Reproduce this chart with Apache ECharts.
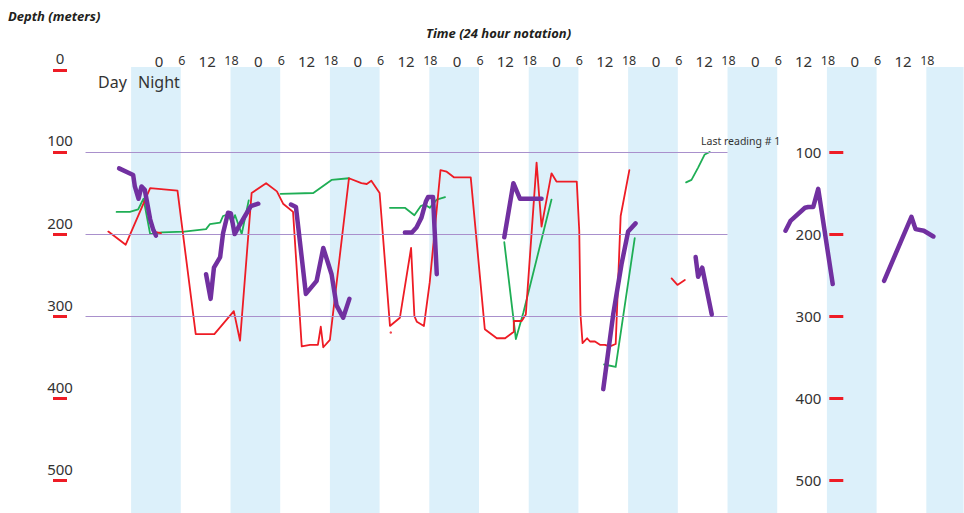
<!DOCTYPE html>
<html><head><meta charset="utf-8">
<script src="https://cdn.jsdelivr.net/npm/echarts@6/dist/echarts.min.js"></script>
<style>html,body{margin:0;padding:0;background:#fff}#c{width:964px;height:513px}</style>
</head><body><div id="c"></div>
<script>
// ---- axes / ticks ----
const timeTicks = [0,6,12,18,24,30,36,42,48,54,60,66,72,78,84,90,96,102,108,114,120,126,132,138,144,150,156,162,168,174,180,186];
const depthTicksLeft = [0,100,200,300,400,500];
const depthTicksRight = [100,200,300,400,500];
const nightBands = [[-6,6],[18,30],[42,54],[66,78],[90,102],[114,126],[138,150],[162,174],[186,198]];
const referenceDepths = [100,200,300];
const referenceSpan = [-17,138];

// ---- tracks: [hour, depth m] ----
const redTrack = [[-11.5,197],[-7.3,213],[-1.4,144],[5.2,147],[9.6,322],[14.1,322],[18.8,294],[20.3,330],[23.1,150],[26.6,138],[29.2,148],[30.7,163],[33.1,173],[35.2,337],[37.2,335],[39.1,335],[39.8,313],[40.4,338],[42.0,329],[46.6,132],[49.6,138],[50.9,139],[52.0,135],[54.0,150],[56.5,312],[58.9,302],[61.6,217],[62.4,300],[63.0,307],[64.7,312],[66.1,259],[68.7,122],[70.2,124],[72.0,131],[76.0,131],[79.4,316],[82.3,327],[84.3,327],[86.4,319],[86.4,306],[88.3,306],[89.3,298],[91.9,113],[93.1,191],[95.5,126],[96.7,136],[101.6,136],[102.2,196],[102.5,298],[103.0,333],[104.1,327],[104.8,331],[106.0,331],[107.2,335],[108.4,335],[109.6,337],[111.0,334],[112.2,178],[114.3,122]];
const redFragment = [[-0.6,197],[1.2,199]];
const redHook = [[124.5,254],[125.9,262],[127.7,256]];
const redSpeck = [[56.7,320]];

const green1 = [[-9.5,173],[-6.3,173],[-4.3,170],[-3.0,157],[-1.4,200],[1.4,198],[6.8,197],[12.1,194],[13.0,188],[15.5,186],[16.2,178],[17.4,176],[18.3,186],[19.1,177],[20.7,200],[22.4,159]];
const green2 = [[30.1,151],[38.0,150],[42.4,134],[46.6,132]];
const green3 = [[56.5,168],[60.1,168],[62.4,177],[63.9,166],[64.9,164],[66.1,168],[67.8,158],[69.8,155]];
const green4 = [[84.1,210],[86.9,328],[88.7,296],[95.5,158]];
const green5 = [[108.2,359],[111.0,362],[115.6,205]];
const green6 = [[128.0,137],[129.3,134],[130.9,119],[132.5,103],[133.7,100]];

const purple1 = [[-8.9,120],[-5.5,128],[-5.1,142],[-4.2,157],[-3.5,142],[-2.7,146],[-1.4,182],[-0.7,194],[0,202]];
const purple2 = [[12.1,249],[13.2,279],[14.0,241],[15.5,228],[16.2,199],[17.4,174],[18.1,175],[19.0,200],[20.1,190],[21.5,178],[22.9,166],[24.7,163]];
const purple3 = [[32.6,164],[33.8,167],[36.2,273],[38.8,257],[40.4,217],[42.4,249],[43.6,287],[45.2,302],[46.7,279]];
const purple4 = [[60.1,198],[61.8,198],[62.9,192],[64.1,180],[65.2,160],[65.7,155],[66.9,155],[67.8,249]];
const purple5 = [[84.1,204],[86.3,138],[87.9,157],[93.1,157]];
const purple6 = [[108.0,389],[110.4,298],[112.4,237],[114.0,197],[115.8,187]];
const purple7 = [[130.3,228],[130.9,252],[131.9,241],[134.2,298]];
const purple8 = [[152.0,196],[153.2,184],[156.7,168],[157.5,167],[158.7,167],[159.9,145],[163.4,261]];
const purple9 = [[175.8,257],[182.4,179],[183.4,194],[185.4,196],[187.7,203]];

// ---- styling ----
const RED = '#ee1c25', GREEN = '#1fae55', PURPLE = '#7130a0', REF = '#a990cc', BAND = '#dcf0fa', TXT = '#333';
const xMin = -18, xMax = 195;
const FONT = 'Noto Sans';

function line(data, color, width, z) {
  return { type: 'line', data: data, showSymbol: false, symbol: 'none', silent: true, z: z,
    lineStyle: { color: color, width: width, cap: 'round', join: 'round' }, animation: false };
}

const series = [
  { type: 'line', data: [], silent: true, z: 1,
    markArea: { silent: true, itemStyle: { color: BAND },
      data: nightBands.map(b => [{ xAxis: Math.max(b[0], xMin) }, { xAxis: Math.min(b[1], xMax) }]) },
    markLine: { silent: true, symbol: 'none', label: { show: false },
      lineStyle: { color: REF, width: 1, type: 'solid' },
      data: referenceDepths.map(d => [{ coord: [referenceSpan[0], d] }, { coord: [referenceSpan[1], d] }]) } },
  ...[green1, green2, green3, green4, green5, green6].map(g => line(g, GREEN, 1.8, 3)),
  ...[redTrack, redFragment, redHook].map(r => line(r, RED, 1.8, 4)),
  { type: 'scatter', data: redSpeck, symbolSize: 2.5, silent: true, z: 4, itemStyle: { color: RED } },
  ...[purple1, purple2, purple3, purple4, purple5, purple6, purple7, purple8, purple9].map(p => line(p, PURPLE, 4.5, 5))
];

const hiddenLine = { show: true, onZero: false, lineStyle: { color: 'rgba(0,0,0,0)', width: 0 } };

const chart = echarts.init(document.getElementById('c'), null, { renderer: 'svg' });
chart.setOption({
  animation: false,
  backgroundColor: '#fff',
  textStyle: { fontFamily: FONT },
  grid: { left: 81.4, top: 67, width: 882.2, height: 447.4, containLabel: false },
  xAxis: {
    type: 'value', position: 'top', min: xMin, max: xMax,
    axisLine: { show: false, onZero: false }, axisTick: { show: false }, splitLine: { show: false },
    axisLabel: {
      customValues: timeTicks, margin: 6.5, verticalAlign: 'middle',
      formatter: v => { const h = ((v % 24) + 24) % 24; return h === 0 ? '{z|0}' : (h === 12 ? '{m|12}' : '{s|' + h + '}'); },
      rich: {
        z: { fontSize: 15, lineHeight: 10, color: TXT, fontFamily: FONT, padding: [0, 0, 0, 6] },
        m: { fontSize: 15, lineHeight: 10, color: TXT, fontFamily: FONT, padding: [0, 0, 0, 3] },
        s: { fontSize: 12.5, lineHeight: 10, color: TXT, fontFamily: FONT, padding: [0, 0, 0, 2] }
      }
    }
  },
  yAxis: [
    { type: 'value', inverse: true, min: -3.6, max: 540, position: 'left', offset: 14.4, z: 20,
      axisLine: hiddenLine, splitLine: { show: false },
      axisTick: { show: true, customValues: depthTicksLeft, length: 14, lineStyle: { color: RED, width: 3 } },
      axisLabel: { customValues: depthTicksLeft, align: 'center', verticalAlign: 'bottom', margin: 7,
        padding: [0, 0, 4, 0], fontSize: 15, color: TXT, fontFamily: FONT } },
    { type: 'value', inverse: true, min: -3.6, max: 540, position: 'left', offset: 81.4 - 843.3, z: 20,
      axisLine: hiddenLine, splitLine: { show: false },
      axisTick: { show: true, customValues: depthTicksRight, length: 14, lineStyle: { color: RED, width: 3 } },
      axisLabel: { customValues: depthTicksRight, align: 'right', verticalAlign: 'middle', margin: 22,
        fontSize: 15, color: TXT, fontFamily: FONT } }
  ],
  graphic: [
    { type: 'text', left: 8, top: 9, z: 100, silent: true, style: { text: 'Depth (meters)', font: 'italic bold 13px "Noto Sans"', fill: '#231f20' } },
    { type: 'text', left: 426, top: 26, z: 100, silent: true, style: { text: 'Time (24 hour notation)', font: 'italic bold 13px "Noto Sans"', fill: '#231f20' } },
    { type: 'text', left: 98, top: 73.5, z: 100, silent: true, style: { text: 'Day', font: '16px "Noto Sans"', fill: TXT } },
    { type: 'text', left: 138, top: 73.5, z: 100, silent: true, style: { text: 'Night', font: '16px "Noto Sans"', fill: TXT } },
    { type: 'text', left: 701, top: 135, z: 100, silent: true, style: { text: 'Last reading # 1', font: '10.5px "Noto Sans"', fill: TXT } }
  ],
  series: series
});
</script></body></html>
